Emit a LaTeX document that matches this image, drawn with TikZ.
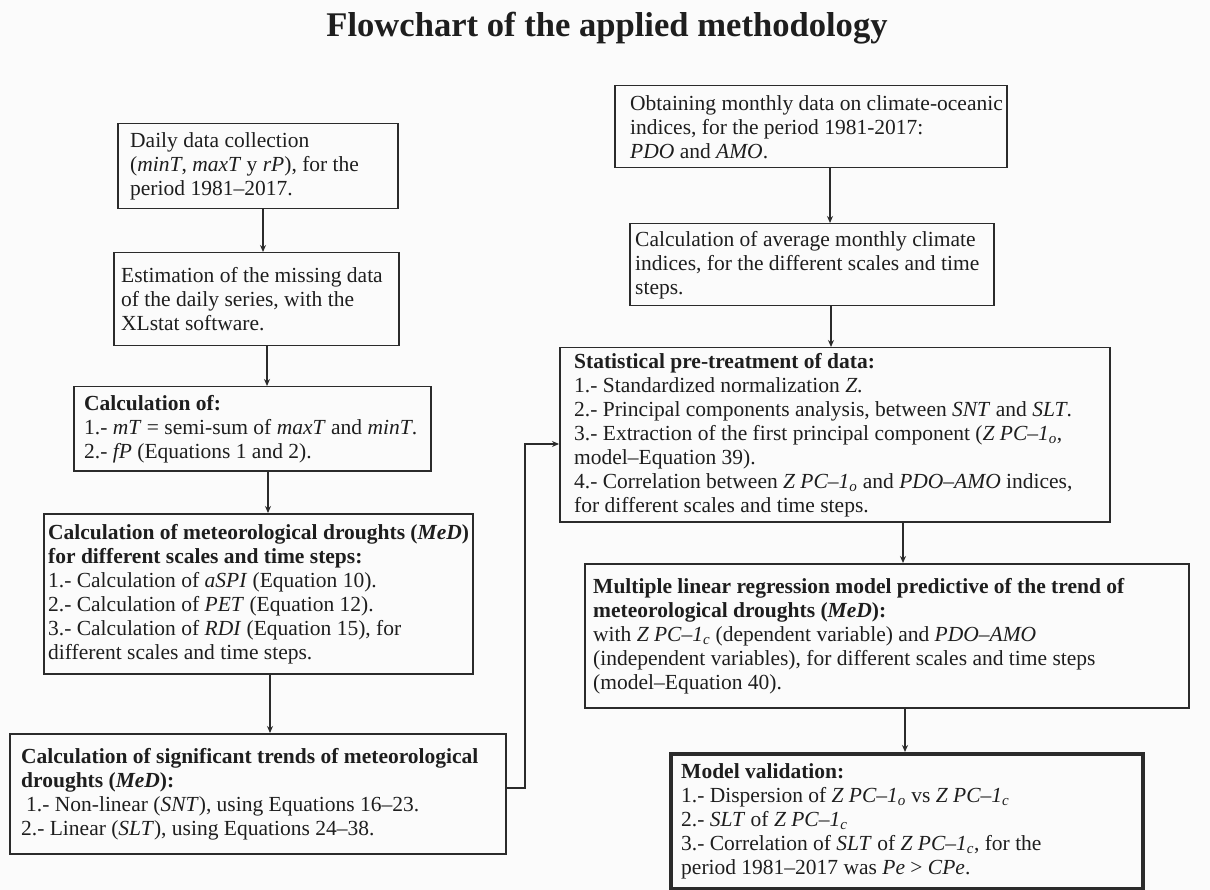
\documentclass[tikz,border=0pt]{standalone}
\usepackage{fontspec}
\setmainfont{Liberation Serif}
\usetikzlibrary{arrows.meta,calc}
\definecolor{linec}{HTML}{2B2B2B}
\definecolor{textc}{HTML}{1E1E1E}
\definecolor{bgc}{HTML}{FBFBFB}
\newcommand{\sbi}[1]{\textsubscript{\textit{#1}}}
\begin{document}
\begin{tikzpicture}[x=1pt,y=-1pt,
  every node/.style={text=textc},
  bx/.style={draw=linec, line width=1.5pt, rectangle, inner sep=0pt, anchor=north west},
  bxthick/.style={bx, line width=4pt},
  txt/.style={anchor=west, align=left, inner sep=0pt, font=\fontsize{21.5}{24}\selectfont},
  arr/.style={draw=linec, line width=2pt, -{Stealth[length=7pt,width=6pt]}},
  conn/.style={draw=linec, line width=1.5pt, -{Stealth[length=7pt,width=6pt]}}
]
\useasboundingbox[fill=bgc] (0,0) rectangle (1210,890);

\node[font=\fontsize{34.6}{40}\bfseries\selectfont, anchor=base] (title) at (607,37) {Flowchart of the applied methodology};

% left column
\node[bx, minimum width=280pt, minimum height=85pt] (b1) at (117,123) {};
\node[txt] (t1) at ($(b1.west)+(13,0)$) {Daily data collection\\(\textit{minT}, \textit{maxT} y \textit{rP}), for the\\period 1981–2017.};

\node[bx, minimum width=285pt, minimum height=93pt] (b2) at (113,252) {};
\node[txt] (t2) at ($(b2.west)+(8,0)$) {Estimation of the missing data\\of the daily series, with the\\XLstat software.};

\node[bx, minimum width=357pt, minimum height=84pt] (b3) at (73,386) {};
\node[txt] (t3) at ($(b3.west)+(11,0)$) {\textbf{Calculation of:}\\1.- \textit{mT} = semi-sum of \textit{maxT} and \textit{minT}.\\2.- \textit{fP} (Equations 1 and 2).};

\node[bx, minimum width=429pt, minimum height=160pt] (b4) at (43,513) {};
\node[txt] (t4) at ($(b4.west)+(5,0)$) {\textbf{Calculation of meteorological droughts (\textit{MeD})}\\\textbf{for different scales and time steps:}\\1.- Calculation of \textit{aSPI} (Equation 10).\\2.- Calculation of \textit{PET} (Equation 12).\\3.- Calculation of \textit{RDI} (Equation 15), for\\different scales and time steps.};

\node[bx, minimum width=496pt, minimum height=120pt] (b5) at (9,733) {};
\node[txt] (t5) at ($(b5.west)+(12,0)$) {\textbf{Calculation of significant trends of meteorological}\\\textbf{droughts (\textit{MeD}):}\\\hspace*{5pt}1.- Non-linear (\textit{SNT}), using Equations 16–23.\\2.- Linear (\textit{SLT}), using Equations 24–38.};

% right column
\node[bx, minimum width=392pt, minimum height=82pt] (r1) at (614,85) {};
\node[txt] (s1) at ($(r1.west)+(16,0)$) {Obtaining monthly data on climate-oceanic\\indices, for the period 1981-2017:\\\textit{PDO} and \textit{AMO}.};

\node[bx, minimum width=364pt, minimum height=82pt] (r2) at (629,223) {};
\node[txt] (s2) at ($(r2.west)+(6,0)$) {Calculation of average monthly climate\\indices, for the different scales and time\\steps.};

\node[bx, minimum width=550pt, minimum height=174pt] (r3) at (559,347) {};
\node[txt] (s3) at ($(r3.west)+(15,0)$) {\textbf{Statistical pre-treatment of data:}\\1.- Standardized normalization \textit{Z}.\\2.- Principal components analysis, between \textit{SNT} and \textit{SLT}.\\3.- Extraction of the first principal component (\textit{Z PC–1}\sbi{o},\\model–Equation 39).\\4.- Correlation between \textit{Z PC–1}\sbi{o} and \textit{PDO–AMO} indices,\\for different scales and time steps.};

\node[bx, minimum width=604pt, minimum height=144pt] (r4) at (584,563) {};
\node[txt] (s4) at ($(r4.west)+(9,0)$) {\textbf{Multiple linear regression model predictive of the trend of}\\\textbf{meteorological droughts (\textit{MeD}):}\\with \textit{Z PC–1}\sbi{c} (dependent variable) and \textit{PDO–AMO}\\(independent variables), for different scales and time steps\\(model–Equation 40).};

\node[bxthick, minimum width=472pt, minimum height=135pt] (r5) at (669,752) {};
\node[txt] (s5) at ($(r5.west)+(12,0)$) {\textbf{Model validation:}\\1.- Dispersion of \textit{Z PC–1}\sbi{o} vs \textit{Z PC–1}\sbi{c}\\2.- \textit{SLT} of \textit{Z PC–1}\sbi{c}\\3.- Correlation of \textit{SLT} of \textit{Z PC–1}\sbi{c}, for the\\period 1981–2017 was \textit{Pe} > \textit{CPe}.};

% connector x positions
\coordinate (a1) at (263,0);
\coordinate (a2) at (267,0);
\coordinate (a3) at (268,0);
\coordinate (a4) at (270,0);
\coordinate (c1) at (830,0);
\coordinate (c2) at (831,0);
\coordinate (c3) at (903,0);
\coordinate (c4) at (905,0);
\coordinate (j1) at (525,788);
\coordinate (j2) at (525,444);

\draw[arr] (b1.south -| a1) -- (b2.north -| a1);
\draw[arr] (b2.south -| a2) -- (b3.north -| a2);
\draw[arr] (b3.south -| a3) -- (b4.north -| a3);
\draw[arr] (b4.south -| a4) -- (b5.north -| a4);

\draw[arr] (r1.south -| c1) -- (r2.north -| c1);
\draw[arr] (r2.south -| c2) -- (r3.north -| c2);
\draw[arr] (r3.south -| c3) -- (r4.north -| c3);
\draw[arr] (r4.south -| c4) -- (r5.north -| c4);

\draw[conn] (b5.east |- j1) -- (j1) -- (j2) -- (r3.west |- j2);
\end{tikzpicture}
\end{document}
